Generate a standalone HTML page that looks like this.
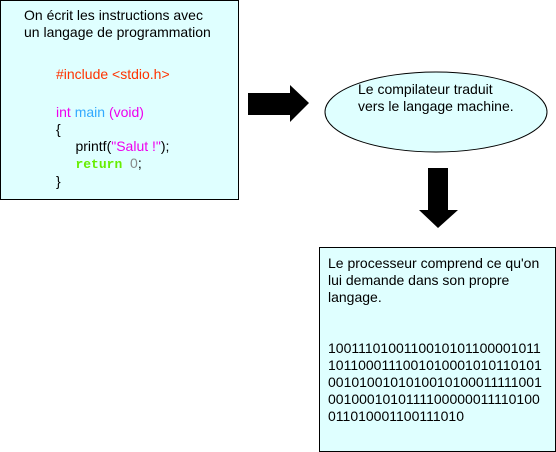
<!DOCTYPE html>
<html><head><meta charset="utf-8"><style>
body{margin:0;width:556px;height:452px;background:#fff;position:relative;overflow:hidden;font-family:"Liberation Sans",Arial,sans-serif;font-size:14px;line-height:17px;color:#000}
.b{position:absolute;background:#dfffff;border:1px solid #000;box-sizing:border-box}
.t{position:absolute;white-space:pre}
</style></head><body>
<div class="b" style="left:0;top:0;width:239px;height:200px"></div>
<div class="t" style="left:24px;top:7px">On écrit les instructions avec
un langage de programmation</div>
<div class="t" style="left:56px;top:66px;color:#ff3300">#include &lt;stdio.h&gt;</div>
<div class="t" style="left:56px;top:104px"><span style="color:#ee00ee">int</span> <span style="color:#33aaff">main</span> <span style="color:#ee00ee">(void)</span>
{
     printf(<span style="color:#ee00ee">"Salut !"</span>);
     <b style="color:#66ee00;font-family:'Liberation Mono',monospace;font-size:13px">return</b>  <span style="color:#888">0</span>;
}</div>
<svg style="position:absolute;left:0;top:0" width="556" height="452">
<polygon points="248,93 290,93 290,85 309,103 290,122 290,115 248,115" fill="#000"/>
<ellipse cx="436" cy="112" rx="111" ry="40" fill="#dfffff" stroke="#000" stroke-width="1"/>
<polygon points="428,168 448,168 448,210 458,210 438,228 419,210 428,210" fill="#000"/>
</svg>
<div class="t" style="left:358px;top:81px">Le compilateur traduit
vers le langage machine.</div>
<div class="b" style="left:319px;top:247px;width:237px;height:205px"></div>
<div class="t" style="left:328px;top:255px">Le processeur comprend ce qu'on
lui demande dans son propre
langage.


1001110100110010101100001011
1011000111001010001010110101
0010100101010010100011111001
0010001010111100000011110100
011010001100111010</div>
</body></html>
